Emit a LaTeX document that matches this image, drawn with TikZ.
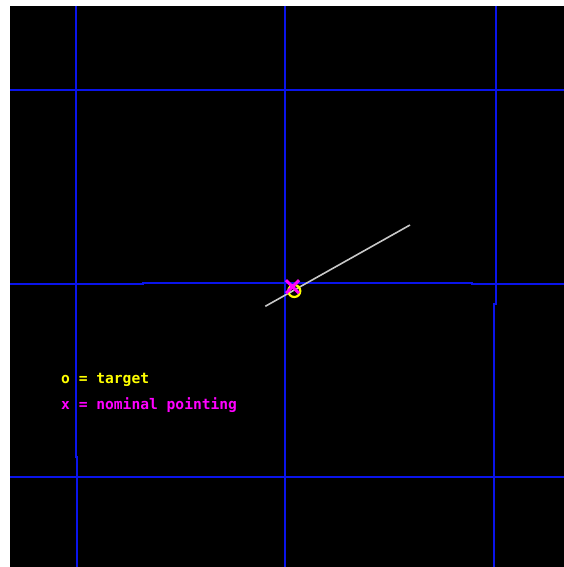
\documentclass[tikz,border=0pt]{standalone}
\usepackage{fontspec}
\newfontfamily\legendfont{DejaVu Sans Mono}
\definecolor{gridblue}{RGB}{10,20,235}
\definecolor{trackgray}{RGB}{200,200,200}
\definecolor{tgtyellow}{RGB}{255,255,0}
\definecolor{nommagenta}{RGB}{255,0,255}
\begin{document}
\begin{tikzpicture}[x=1pt,y=-1pt,
  gridline/.style={draw=gridblue,line width=2pt},
  legendtext/.style={anchor=west,inner sep=0pt,font=\legendfont\bfseries\fontsize{14.6}{16}\selectfont}]
\useasboundingbox (0,0) rectangle (564,567);
\fill[white] (0,0) rectangle (564,567);
\fill[black] (10,6) rectangle (564,567);
% horizontal grid lines
\draw[gridline] (10,90.3) -- (564,90.3);
\draw[gridline] (10,284.3) -- (143.3,284.3) -- (143.3,283) -- (472,283) -- (472,284.3) -- (564,284.3);
\draw[gridline] (10,477.3) -- (564,477.3);
% vertical grid lines
\draw[gridline] (75.8,6) -- (75.8,457) -- (76.8,457) -- (76.8,567);
\draw[gridline] (284.7,6) -- (284.7,567);
\draw[gridline] (495.5,6) -- (495.5,304) -- (494.3,304) -- (494.3,567);
% track
\coordinate (trackA) at (265.3,306.3);
\coordinate (trackB) at (410,225);
\draw[trackgray,line width=1.6pt] (trackA) -- (trackB);
% target and nominal pointing
\node[draw=tgtyellow,line width=2.2pt,circle,minimum size=12pt,inner sep=0pt] (target) at (294.3,291) {};
\coordinate (nom) at (292.5,286.7);
\draw[nommagenta,line width=3pt] ([shift={(-6.5,-6.5)}]nom) -- ([shift={(6.5,6.5)}]nom)
  ([shift={(-6.5,6.5)}]nom) -- ([shift={(6.5,-6.5)}]nom);
% legend
\node[legendtext,text=tgtyellow] (leg1) at (61,380) {o = target};
\node[legendtext,text=nommagenta] (leg2) at (61,405) {x = nominal pointing};
\end{tikzpicture}
\end{document}
